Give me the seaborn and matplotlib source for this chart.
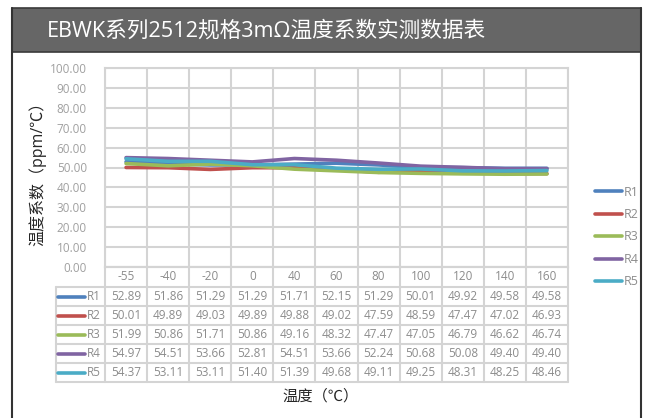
import matplotlib
matplotlib.use("Agg")
import matplotlib.pyplot as plt
from matplotlib.patches import Rectangle
from matplotlib.lines import Line2D
import seaborn as sns
import pandas as pd

temps = ["-55", "-40", "-20", "0", "40", "60", "80", "100", "120", "140", "160"]
r1 = [52.89, 51.86, 51.29, 51.29, 51.71, 52.15, 51.29, 50.01, 49.92, 49.58, 49.58]
r2 = [50.01, 49.89, 49.03, 49.89, 49.88, 49.02, 47.59, 48.59, 47.47, 47.02, 46.93]
r3 = [51.99, 50.86, 51.71, 50.86, 49.16, 48.32, 47.47, 47.05, 46.79, 46.62, 46.74]
r4 = [54.97, 54.51, 53.66, 52.81, 54.51, 53.66, 52.24, 50.68, 50.08, 49.40, 49.40]
r5 = [54.37, 53.11, 53.11, 51.40, 51.39, 49.68, 49.11, 49.25, 48.31, 48.25, 48.46]
names = ["R1", "R2", "R3", "R4", "R5"]
series = [r1, r2, r3, r4, r5]
colors = ["#4F81BD", "#C0504D", "#9BBB59", "#8064A2", "#4BACC6"]

title = "EBWK系列2512规格3mΩ温度系数实测数据表"
xlabel = "温度（℃）"
ylabel = "温度系数（ppm/℃）"

rows = []
for name, vals in zip(names, series):
    for i, v in enumerate(vals):
        rows.append({"pos": i + 0.5, "value": v, "series": name})
df = pd.DataFrame(rows)

sns.set_theme(style="white")
plt.rcParams["font.family"] = ["Open Sans", "Noto Sans CJK SC", "DejaVu Sans"]

W, H = 645, 418
fig = plt.figure(figsize=(W / 100, H / 100), dpi=100)
fig.patch.set_facecolor("white")


def box(x0, y0, x1, y1):
    return [x0 / W, 1 - y1 / H, (x1 - x0) / W, (y1 - y0) / H]


grid_c = "#d4d4d4"
text_c = "#8c8c8c"

# title bar and outer frame
fig.patches.append(Rectangle((12 / W, 1 - 52 / H), (641 - 12) / W, 44 / H,
                             transform=fig.transFigure, facecolor="#666666",
                             edgecolor="#3a3a3a", lw=1.2))
fig.lines.append(Line2D([12 / W, 12 / W], [0, 1 - 8 / H], transform=fig.transFigure,
                        color="#333333", lw=1.5))
fig.lines.append(Line2D([641 / W, 641 / W], [0, 1 - 8 / H], transform=fig.transFigure,
                        color="#333333", lw=1.5))
fig.text(47 / W, 1 - 31 / H, title, color="white", fontsize=15.6, va="center", ha="left")

# main plot
ax = fig.add_axes(box(105, 68, 568, 267))
sns.lineplot(data=df, x="pos", y="value", hue="series", palette=colors, ax=ax,
             lw=2.6, legend=True)
ax.set_xlim(0, len(temps))
ax.set_ylim(0, 100)
ax.set_xticks(range(len(temps) + 1))
ax.set_xticklabels([])
ax.set_yticks(range(0, 101, 10))
ax.set_yticklabels([f"{v:.2f}" for v in range(0, 101, 10)], color="#a0a0a0", fontsize=8.5)
ax.tick_params(length=0, pad=13)
ax.grid(True, color=grid_c, lw=1.5)
for s in ax.spines.values():
    s.set_color(grid_c)
    s.set_linewidth(1.5)
ax.set_xlabel("")
ax.set_ylabel("")

leg = ax.legend(loc="center left", bbox_to_anchor=(1.0 + 16 / 463, 0.5 - (237 - 167.5) / 199),
                frameon=False, fontsize=9, labelspacing=0.75, handlelength=2.1,
                handletextpad=0.15)
for t in leg.get_texts():
    t.set_color(text_c)

fig.text(38 / W, 1 - 170 / H, ylabel, rotation=90, fontsize=11.5, va="center", ha="center")
fig.text(321 / W, 1 - 397 / H, xlabel, fontsize=11, va="center", ha="center")

# data table under the plot, drawn in pixel coordinates
tx0, tx1, key_x = 56, 568, 105
ty0, hy, ty1 = 267, 287, 382
tax = fig.add_axes(box(tx0, ty0, tx1, ty1))
tax.set_xlim(tx0, tx1)
tax.set_ylim(ty1, ty0)
tax.axis("off")
cw = (tx1 - key_x) / len(temps)
rh = (ty1 - hy) / len(names)
kw = dict(color=grid_c, lw=1.5, clip_on=False)
tax.plot([key_x, tx1], [ty0, ty0], **kw)
for r in range(len(names) + 1):
    y = hy + r * rh
    tax.plot([tx0, tx1], [y, y], **kw)
tax.plot([tx0, tx0], [hy, ty1], **kw)
for c in range(len(temps) + 1):
    x = key_x + c * cw
    tax.plot([x, x], [ty0, ty1], **kw)
for c, t in enumerate(temps):
    tax.text(key_x + (c + 0.5) * cw, (ty0 + hy) / 2, t, ha="center", va="center",
             fontsize=8.5, color=text_c)
for r, (name, vals, col) in enumerate(zip(names, series, colors)):
    yc = hy + (r + 0.5) * rh
    tax.plot([58, 85], [yc, yc], color=col, lw=2.6, solid_capstyle="round")
    tax.text(87, yc, name, ha="left", va="center", fontsize=8.5, color=text_c)
    for c, v in enumerate(vals):
        tax.text(key_x + (c + 0.5) * cw, yc, f"{v:.2f}", ha="center", va="center",
                 fontsize=8.5, color=text_c)

fig.savefig("out.png", dpi=100)
